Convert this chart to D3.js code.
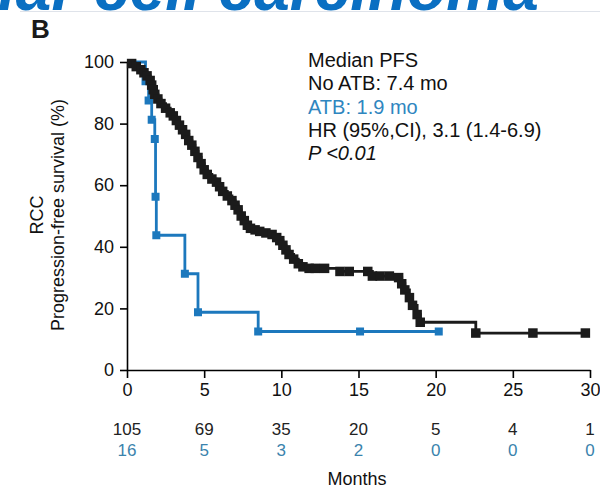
<!DOCTYPE html>
<html lang="en">
<head>
  <meta charset="UTF-8" />
  <title>RCC PFS by ATB</title>
  <style>
    body { margin: 0; background: #fff; }
    svg { display: block; }
    text { font-family: "Liberation Sans", Arial, sans-serif; }
    .axis path, .axis line { stroke: #000; stroke-width: 1.6px; }
    .axis text { font-size: 18px; fill: #111; }
  </style>
</head>
<body>
  <script src="https://cdn.jsdelivr.net/npm/d3@7"></script>
  <script>
    // No ATB curve (months, % progression-free)
    var noAtbTime = [0, 0.3, 0.6, 0.9, 1.1, 1.3, 1.5, 1.6, 1.7, 1.8, 2.0, 2.2, 2.5, 2.8, 3.0, 3.2, 3.4, 3.6, 3.8,
      4.0, 4.2, 4.4, 4.6, 4.8, 5.0, 5.2, 5.5, 5.8, 6.0, 6.2, 6.5, 6.8, 7.0, 7.2, 7.4, 7.6, 7.8, 8.0, 8.3, 8.6,
      9.0, 9.4, 9.7, 9.9, 10.1, 10.3, 10.5, 10.8, 11.1, 11.4, 11.8, 12.2, 12.8, 13.8, 14.4, 15.6, 15.9, 16.4,
      17.0, 17.6, 17.8, 18.0, 18.3, 18.5, 18.8, 19.0, 22.6, 26.3, 29.7];
    var noAtbSurv = [100, 99.5, 98.5, 97.5, 96.5, 95.5, 94, 92.5, 91, 89.5, 88, 86.5, 85, 83.5, 82.5, 81, 79.5, 78, 76.5,
      74.5, 73, 71, 69, 67, 65, 63.5, 62, 61, 59.5, 58, 56.5, 55, 53.5, 52, 50, 48.5, 47, 46, 45.5, 45,
      44.5, 44, 43, 42, 40.5, 39, 37.5, 36, 34.5, 33.5, 33, 33, 33, 32, 32, 32, 30.5, 30.5,
      30.5, 30, 28, 26, 23.5, 21, 18, 15.5, 12, 12, 12];

    // ATB curve
    var atbTime = [0, 1.2, 1.4, 1.6, 1.8, 1.85, 1.9, 3.75, 4.6, 8.5, 15.1, 20.2];
    var atbSurv = [100, 93.75, 87.5, 81.25, 75, 56.25, 43.75, 31.25, 18.75, 12.5, 12.5, 12.5];

    // numbers at risk
    var riskTimes = [0, 5, 10, 15, 20, 25, 30];
    var riskNoAtb = [105, 69, 35, 20, 5, 4, 1];
    var riskAtb = [16, 5, 3, 2, 0, 0, 0];

    var legendLines = ["Median PFS", "No ATB: 7.4 mo", "ATB: 1.9 mo", "HR (95%,CI), 3.1 (1.4-6.9)", "P <0.01"];

    var w = 600, h = 489;
    var blue = "#1c78bd";
    var blueText = "#2f86bf";

    var svg = d3.select("body").append("svg")
      .attr("width", w)
      .attr("height", h);

    // clipped title strip from the slide above
    svg.append("text")
      .attr("x", -2)
      .attr("y", 10)
      .attr("fill", "#0a6fc2")
      .style("font-size", "64px")
      .style("font-weight", "bold")
      .style("font-style", "italic")
      .text("lar cell carcinoma");

    svg.append("line")
      .attr("x1", 20).attr("x2", 600)
      .attr("y1", 11.5).attr("y2", 11.5)
      .attr("stroke", "#dfe3ea")
      .attr("stroke-width", 1);

    svg.append("text")
      .attr("x", 31)
      .attr("y", 38)
      .style("font-size", "26px")
      .style("font-weight", "bold")
      .attr("fill", "#1a1a1a")
      .text("B");

    var xScale = d3.scaleLinear().domain([0, 30]).range([127, 590]);
    var yScale = d3.scaleLinear().domain([0, 100]).range([370, 62]);

    var xAxis = d3.axisBottom(xScale).tickValues(riskTimes).tickSize(8).tickSizeOuter(0).tickPadding(5);
    var yAxis = d3.axisLeft(yScale).tickValues([0, 20, 40, 60, 80, 100]).tickSize(7).tickSizeOuter(0).tickPadding(6);

    svg.append("g")
      .attr("class", "axis")
      .attr("transform", "translate(0," + yScale(0) + ")")
      .call(xAxis);

    svg.append("g")
      .attr("class", "axis")
      .attr("transform", "translate(" + xScale(0) + ",0)")
      .call(yAxis);

    // y label
    var ylab = svg.append("text")
      .attr("transform", "translate(43," + 215 + ") rotate(-90)")
      .attr("text-anchor", "middle")
      .style("font-size", "18px")
      .attr("fill", "#111");
    ylab.append("tspan").attr("x", 0).attr("dy", 0).text("RCC");
    ylab.append("tspan").attr("x", 0).attr("dy", 21).text("Progression-free survival (%)");

    var line = d3.line()
      .curve(d3.curveStepAfter)
      .x(function(d) { return xScale(d.t); })
      .y(function(d) { return yScale(d.s); });

    function toPoints(times, surv) {
      return times.map(function(t, i) { return { t: t, s: surv[i] }; });
    }

    var noAtb = toPoints(noAtbTime, noAtbSurv);
    var atb = toPoints(atbTime, atbSurv);

    function drawCurve(data, color, size) {
      svg.append("path")
        .datum(data)
        .attr("fill", "none")
        .attr("stroke", color)
        .attr("stroke-width", 2.8)
        .attr("d", line);

      svg.selectAll(null)
        .data(data.filter(function(d) { return d.t > 0; }))
        .enter()
        .append("rect")
        .attr("x", function(d) { return xScale(d.t) - size / 2; })
        .attr("y", function(d) { return yScale(d.s) - size / 2; })
        .attr("width", size)
        .attr("height", size)
        .attr("fill", color);
    }

    drawCurve(atb, blue, 8);
    drawCurve(noAtb, "#1b1b1b", 9.5);

    // legend text
    var leg = svg.append("g").attr("transform", "translate(308,0)");
    legendLines.forEach(function(txt, i) {
      var t = leg.append("text")
        .attr("x", 0)
        .attr("y", 67 + i * 23.3)
        .style("font-size", "20px")
        .attr("fill", i == 2 ? blueText : "#111");
      if (i == 4) t.style("font-style", "italic");
      t.text(txt);
    });

    // numbers at risk
    svg.selectAll(null)
      .data(riskTimes)
      .enter()
      .append("text")
      .attr("x", function(d) { return xScale(d); })
      .attr("y", 435)
      .attr("text-anchor", "middle")
      .style("font-size", "17px")
      .attr("fill", "#222")
      .text(function(d, i) { return riskNoAtb[i]; });

    svg.selectAll(null)
      .data(riskTimes)
      .enter()
      .append("text")
      .attr("x", function(d) { return xScale(d); })
      .attr("y", 456)
      .attr("text-anchor", "middle")
      .style("font-size", "17px")
      .attr("fill", "#3a83ad")
      .text(function(d, i) { return riskAtb[i]; });

    svg.append("text")
      .attr("x", 357)
      .attr("y", 485)
      .attr("text-anchor", "middle")
      .style("font-size", "18px")
      .attr("fill", "#111")
      .text("Months");
  </script>
</body>
</html>
